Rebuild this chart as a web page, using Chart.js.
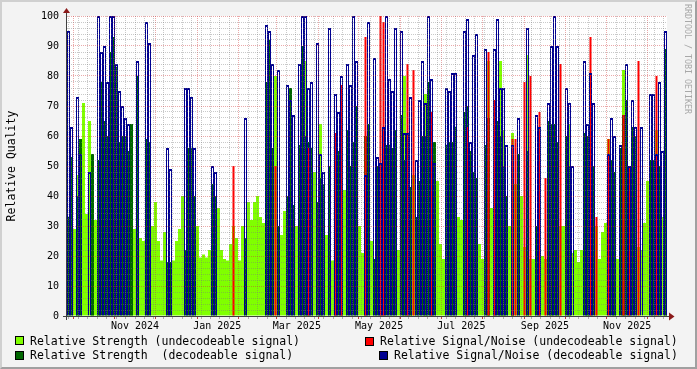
<!DOCTYPE html>
<html>
<head>
<meta charset="utf-8">
<script src="https://cdn.jsdelivr.net/npm/chart.js@4/dist/chart.umd.min.js"></script>
<style>
html,body{margin:0;padding:0;background:#f3f3f3;}
#wrap{position:relative;width:697px;height:369px;overflow:hidden;background:#f3f3f3;}
#frame{position:absolute;left:0;top:0;width:697px;height:369px;box-sizing:border-box;border-top:2px solid #d0d0d0;border-left:2px solid #d0d0d0;border-right:2px solid #a0a0a0;border-bottom:2px solid #a0a0a0;pointer-events:none;}
canvas{position:absolute;left:0;top:0;}
.lg{position:absolute;font:11.5px "DejaVu Sans Mono",monospace;color:#000;white-space:pre;line-height:14px;}
.bx{position:absolute;width:7px;height:7px;border:1px solid #000;}
#credit{position:absolute;left:683px;top:4px;font:8.3px "DejaVu Sans Mono",monospace;color:#a8a8a8;writing-mode:vertical-rl;white-space:pre;line-height:10px;}
</style>
</head>
<body>
<div id="wrap">
  <canvas id="c" width="697" height="369"></canvas>
  <div id="credit">RRDTOOL / TOBI OETIKER</div>
  <div class="bx" style="left:15px;top:336px;background:#80ff00"></div>
  <div class="lg" style="left:30px;top:334px">Relative Strength (undecodeable signal)</div>
  <div class="bx" style="left:15px;top:351px;background:#006600"></div>
  <div class="lg" style="left:30px;top:348px">Relative Strength  (decodeable signal)</div>
  <div class="bx" style="left:365px;top:337px;background:#ff0000"></div>
  <div class="lg" style="left:380px;top:334px">Relative Signal/Noise (undecodeable signal)</div>
  <div class="bx" style="left:379px;top:351px;background:#000090"></div>
  <div class="lg" style="left:394px;top:348px">Relative Signal/Noise (decodeable signal)</div>
  <div id="frame"></div>
</div>
<script>
const _ = null;
// time axis: samples start at this instant, each sample covers spanDays / sample count
const startISO = '2024-09-26T13:00:00Z';
const spanDays = 445;

const strengthUndecoded = [
  _,_,29,47,_,71,34,65,33,32,
  44,_,_,_,_,_,_,_,_,_,
  _,42,29,_,26,25,_,_,30,38,
  25,18.5,28,_,_,18.5,25,29,40,_,
  _,_,_,30,19.5,20.5,19.5,22,_,_,
  36,22,19,18.5,24,30,26,18.5,30,_,
  38,32,38,40,33,31,_,_,_,80,
  _,27,35,_,_,_,30,_,_,85,
  _,_,48,_,64,_,27,_,18.5,_,
  _,_,42,_,_,_,_,30,21,_,
  _,25,_,_,_,_,_,_,_,_,
  22,_,80,_,43,47,_,_,_,74,
  _,_,_,45,24,19,_,_,_,_,
  33,32,41,_,_,_,_,24,19,_,
  85,36,_,_,85,62,_,30,61,44,
  _,40,23,87,19,19,_,_,20,19,
  _,49,_,56,30,30,_,64,21,22,
  18,22,_,41,_,_,30,19,28,31,
  59,_,28,19,_,82,_,_,_,_,
  23,22,31,45,_,_,62,_,33,86
];
const strengthDecoded = [
  33,53,_,40,59,_,_,_,54,_,
  52,78,65,60,88,93,83,58,60,60,
  55,64,_,80,_,_,59,58,_,_,
  _,_,_,18,18,_,_,_,_,22,
  56,56,40,_,_,_,_,_,44,40,
  _,_,_,_,_,_,_,_,_,26,
  _,_,_,_,_,_,78,92,56,_,
  30,_,_,40,76,37,_,57,90,60,
  58,56,_,38,46,44,_,50,_,45,
  55,45,_,62,50,58,70,_,_,60,
  64,_,19,50,50,57,57,57,56,62,
  _,67,52,45,43,_,33,45,60,60,
  78,58,58,_,_,_,57,58,58,63,
  _,_,68,70,55,48,46,_,_,57,
  66,_,70,65,60,50,40,_,45,_,
  54,_,_,55,_,_,30,20,_,_,
  65,64,64,58,_,_,60,50,_,_,
  _,_,61,60,60,50,_,_,_,_,
  _,52,48,_,56,67,72,48,63,60,
  _,_,_,_,52,52,_,50,_,89
];
const snrUndecoded = [
  _,_,_,_,_,_,_,_,_,_,
  _,_,_,_,_,_,_,_,_,_,
  _,_,_,_,_,_,_,_,_,_,
  _,_,_,_,_,_,_,_,_,_,
  _,_,_,_,_,_,_,_,_,_,
  _,_,_,_,_,50,_,_,_,_,
  _,_,_,_,_,_,_,_,_,50,
  _,_,_,_,_,_,_,_,_,_,
  56,_,_,_,_,_,_,_,_,61,
  _,77,_,_,_,_,_,_,_,93,
  _,_,_,_,100,98,_,_,_,_,
  _,_,_,84,_,82,_,_,_,_,
  _,68,_,_,_,_,_,_,_,_,
  _,_,_,63,_,_,_,_,_,_,
  88,_,72,_,_,_,_,_,59,59,
  _,_,78,_,80,_,_,68,_,46,
  _,_,_,_,84,_,_,_,_,_,
  _,_,_,_,93,_,33,_,_,_,
  59,_,_,_,_,67,_,50,_,_,
  85,_,_,_,_,_,80,_,_,_
];
const snrDecoded = [
  95,63,_,73,54,_,_,48,_,_,
  100,88,90,78,100,100,84,75,70,66,
  64,_,_,85,_,_,98,91,_,_,
  _,_,_,56,49,_,_,_,_,76,
  76,73,56,_,_,_,_,_,50,48,
  _,_,_,_,_,_,_,_,_,66,
  _,_,_,_,_,_,97,95,84,_,
  82,_,_,77,72,67,_,84,100,100,
  76,78,_,91,54,48,_,96,_,74,
  68,80,_,84,77,100,85,_,_,47,
  98,_,86,53,51,63,100,79,75,96,
  _,95,61,61,73,_,52,72,85,71,
  100,79,51,_,_,_,76,75,81,81,
  _,_,95,99,58,87,94,_,_,89,
  _,_,89,99,76,76,57,_,57,_,
  66,_,_,96,_,_,67,63,_,_,
  71,90,100,90,_,_,76,71,50,_,
  _,_,85,64,81,71,_,_,_,_,
  54,66,60,_,57,_,84,50,72,63,
  _,63,_,_,74,74,54,78,55,95
];

const monthStarts = ['2024-10-01','2024-11-01','2024-12-01','2025-01-01','2025-02-01','2025-03-01','2025-04-01',
  '2025-05-01','2025-06-01','2025-07-01','2025-08-01','2025-09-01','2025-10-01','2025-11-01','2025-12-01'];
const firstWeekLine = '2024-09-28';
const labelDates = ['2024-11-16','2025-01-16','2025-03-16','2025-05-16','2025-07-16','2025-09-16','2025-11-16'];
const labelTexts = ['Nov 2024','Jan 2025','Mar 2025','May 2025','Jul 2025','Sep 2025','Nov 2025'];
const yMax = 100, yMinorStep = 2, yMajorStep = 10;

const t0 = Date.parse(startISO);
const dayOf = iso => (Date.parse(iso + 'T00:00:00Z') - t0) / 864e5;
const n = strengthUndecoded.length;
const sampleDays = spanDays / n;
const xs = strengthUndecoded.map((v, i) => (i + 0.5) * sampleDays);
const pts = arr => arr.map((v, i) => ({x: xs[i], y: v}));

// x ticks: week lines, month lines, labels
const tickInfo = new Map();
const addTick = (v, k, lab) => {
  const key = Math.round(v * 1000) / 1000;
  const o = tickInfo.get(key) || {grid: null, label: ''};
  if (k === 'month' || (k === 'week' && o.grid !== 'month')) o.grid = k;
  if (lab) o.label = lab;
  tickInfo.set(key, o);
};
for (let d = dayOf(firstWeekLine); d <= spanDays; d += 7) addTick(d, 'week');
monthStarts.forEach(m => addTick(dayOf(m), 'month'));
labelDates.forEach((m, i) => addTick(dayOf(m), null, labelTexts[i]));
const xTickValues = [...tickInfo.keys()].sort((a, b) => a - b);

const MAJOR = 'rgba(205,50,50,0.42)';
const MINOR = 'rgba(120,120,120,0.40)';
const monoFont = '"DejaVu Sans Mono", monospace';

const rrdPlugin = {
  id: 'rrd',
  beforeDraw(chart) {
    const {ctx, chartArea: a} = chart;
    ctx.save();
    ctx.fillStyle = '#ffffff';
    ctx.fillRect(a.left, a.top, a.right - a.left, a.bottom - a.top);
    ctx.restore();
  },
  afterDraw(chart) {
    const {ctx, chartArea: a} = chart;
    ctx.save();
    ctx.lineWidth = 1;
    ctx.strokeStyle = '#404040';
    ctx.beginPath();
    ctx.moveTo(a.left - 4, a.bottom + 0.5);
    ctx.lineTo(a.right + 4, a.bottom + 0.5);
    ctx.moveTo(a.left - 0.5, a.bottom + 4);
    ctx.lineTo(a.left - 0.5, a.top - 4);
    ctx.stroke();
    ctx.fillStyle = '#8b1a1a';
    ctx.beginPath();
    ctx.moveTo(a.left - 4, a.top - 3);
    ctx.lineTo(a.left + 3, a.top - 3);
    ctx.lineTo(a.left - 0.5, a.top - 8);
    ctx.closePath();
    ctx.fill();
    ctx.beginPath();
    ctx.moveTo(a.right + 2, a.bottom - 3.5);
    ctx.lineTo(a.right + 2, a.bottom + 4.5);
    ctx.lineTo(a.right + 7.5, a.bottom + 0.5);
    ctx.closePath();
    ctx.fill();
    ctx.restore();
  }
};

new Chart(document.getElementById('c'), {
  type: 'bar',
  data: {
    datasets: [
      {
        label: 'Relative Signal/Noise (decodeable signal)', data: pts(snrDecoded),
        backgroundColor: 'rgba(0,0,0,0)', borderColor: '#000090',
        borderWidth: {left: 1, right: 1, top: 2, bottom: 0}, borderSkipped: false, inflateAmount: 0,
        barPercentage: 1, categoryPercentage: 1, grouped: false
      },
      {
        label: 'Relative Signal/Noise (undecodeable signal)', data: pts(snrUndecoded),
        backgroundColor: '#ff0000', barThickness: 2, grouped: false, inflateAmount: 0
      },
      {
        label: 'Relative Strength  (decodeable signal)', data: pts(strengthDecoded),
        backgroundColor: '#006600', barPercentage: 1, categoryPercentage: 1, grouped: false, inflateAmount: 0
      },
      {
        label: 'Relative Strength (undecodeable signal)', data: pts(strengthUndecoded),
        backgroundColor: '#80ff00', barPercentage: 1, categoryPercentage: 1, grouped: false, inflateAmount: 0
      }
    ]
  },
  options: {
    responsive: false, animation: false, devicePixelRatio: 1,
    layout: {padding: {left: 0, top: 16, right: 30, bottom: 33}},
    plugins: {legend: {display: false}, tooltip: {enabled: false}},
    scales: {
      x: {
        type: 'linear', position: 'bottom', min: 0, max: spanDays, offset: false,
        afterFit: s => { s.height = 0; },
        grid: {display: false, drawTicks: false, offset: false},
        border: {display: false},
        ticks: {display: false, maxTicksLimit: 2}
      },
      xGrid: {
        type: 'linear', position: 'bottom', min: 0, max: spanDays, offset: false,
        afterBuildTicks: s => { s.ticks = xTickValues.map(v => ({value: v})); },
        afterFit: s => { s.height = 20; },
        border: {display: false, dash: [1, 1]},
        grid: {
          z: 1, lineWidth: 1, tickLength: 3, offset: false,
          color: c => { const o = c.tick && tickInfo.get(c.tick.value); return !o || !o.grid ? 'rgba(0,0,0,0)' : (o.grid === 'month' ? MAJOR : MINOR); },
          tickColor: c => { const o = c.tick && tickInfo.get(c.tick.value); return !o || !o.grid ? 'rgba(0,0,0,0)' : (o.grid === 'month' ? '#c04040' : '#b0b0b0'); }
        },
        ticks: {
          autoSkip: false, maxRotation: 0, minRotation: 0, padding: 1,
          color: '#000', font: {family: monoFont, size: 10},
          callback: v => { const o = tickInfo.get(v); return o ? o.label : ''; }
        }
      },
      y: {
        type: 'linear', min: 0, max: yMax,
        afterFit: s => { s.width = 67; },
        border: {display: false, dash: [1, 1]},
        grid: {
          z: 1, drawTicks: false,
          color: c => (c.tick.value % yMajorStep === 0 ? MAJOR : MINOR)
        },
        ticks: {
          stepSize: yMinorStep, autoSkip: false, padding: 8,
          color: '#000', font: {family: monoFont, size: 10},
          callback: v => (v % yMajorStep === 0 ? String(v) : '')
        },
        title: {
          display: true, text: 'Relative Quality', color: '#000',
          font: {family: monoFont, size: 11.5}, padding: {top: 5, bottom: 0}
        }
      }
    }
  },
  plugins: [rrdPlugin]
});
</script>
</body>
</html>
